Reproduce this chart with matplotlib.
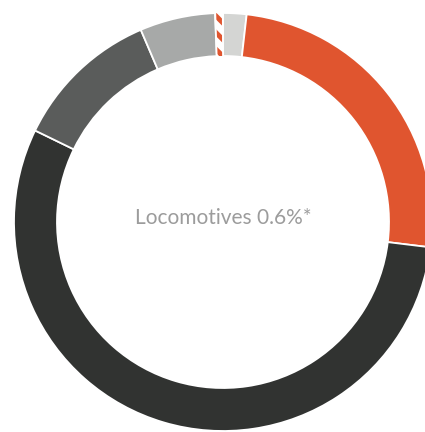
import matplotlib
matplotlib.use("Agg")
import matplotlib.pyplot as plt
from matplotlib.patches import Wedge

# fleet share by category, clockwise from 12 o'clock (percent)
categories = ["Other", "Freight wagons", "Passenger coaches", "Multiple units", "Track machines", "Locomotives"]
shares = [1.8, 25.0, 55.0, 11.3, 5.8, 0.6]
colors = ["#d4d5d3", "#e0552f", "#313331", "#5a5c5b", "#a7a9a8", "#ffffff"]
hatched = "Locomotives"
center_label = "Locomotives 0.6%*"

W, H = 425, 432
fig = plt.figure(figsize=(W / 100, H / 100), dpi=100)
ax = fig.add_axes([0, 0, 1, 1])

cx, cy = 223, H - 222
R, ring = 209, 43

wedges, _ = ax.pie(
    shares,
    colors=colors,
    startangle=90,
    counterclock=False,
    center=(cx, cy),
    radius=R,
    frame=True,
    wedgeprops=dict(width=ring, edgecolor="white", linewidth=1.3),
)
ax.set_xlim(0, W)
ax.set_ylim(0, H)
ax.set_aspect("equal")
ax.axis("off")

# striped overlay for the locomotive slice
plt.rcParams["hatch.linewidth"] = 3.6
w = wedges[categories.index(hatched)]
stripes = Wedge(w.center, w.r, w.theta1 + 0.3, w.theta2 - 0.3, width=w.width,
                facecolor="none", edgecolor="#e0552f", linewidth=0, hatch="\\\\")
ax.add_patch(stripes)

ax.text(cx, H - 218, center_label, ha="center", va="center",
        fontsize=15, color="#9c9c9c", family=["Lato", "DejaVu Sans"])

fig.savefig("out.png", dpi=100)
